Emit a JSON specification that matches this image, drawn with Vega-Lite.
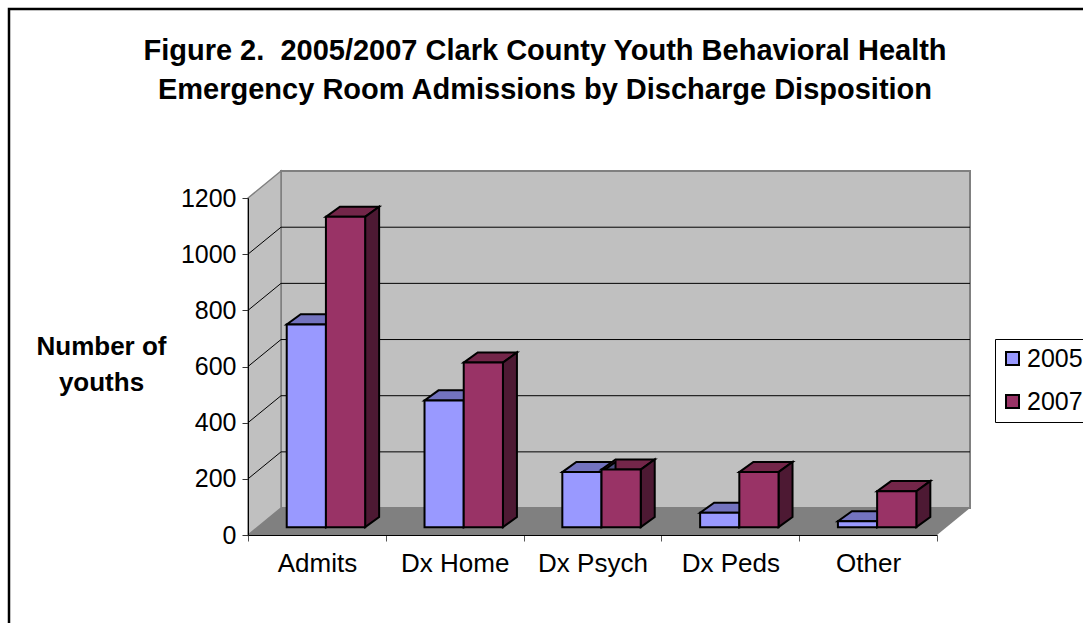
{
"$schema":"https://vega.github.io/schema/vega-lite/v6.json",
"width":1090,"height":630,
"autosize":{"type":"none"},
"padding":{"left":9,"top":9,"right":0,"bottom":0},
"background":"white",
"view":{"stroke":"black","strokeWidth":2.5,"fill":"white"},
"title":{"text":["Figure 2.\u00a0 2005/2007 Clark County Youth Behavioral Health","Emergency Room Admissions by Discharge Disposition"],"font":"Liberation Sans","fontSize":29,"fontWeight":"bold","color":"black","anchor":"middle","dx":-9,"baseline":"top","offset":-96,"lineHeight":39},
"datasets":{
"bars":[
{"category":"Admits","year":"2005","value":722},{"category":"Admits","year":"2007","value":1105},
{"category":"Dx Home","year":"2005","value":451},{"category":"Dx Home","year":"2007","value":586},
{"category":"Dx Psych","year":"2005","value":196},{"category":"Dx Psych","year":"2007","value":205},
{"category":"Dx Peds","year":"2005","value":51},{"category":"Dx Peds","year":"2007","value":196},
{"category":"Other","year":"2005","value":21},{"category":"Other","year":"2007","value":128}],
"grid":[{"value":200},{"value":400},{"value":600},{"value":800},{"value":1000}],
"leftWall":[{"x":0,"lo":0,"hi":1200},{"x":0.2395,"lo":96,"hi":1296}],
"floor":[{"x":0,"lo":0,"hi":0},{"x":0.2395,"lo":0,"hi":96},{"x":5,"lo":0,"hi":96},{"x":5.2395,"lo":96,"hi":96}]
},
"data":{"name":"bars"},
"transform":[
{"calculate":"indexof(['Admits','Dx Home','Dx Psych','Dx Peds','Other'],datum.category)+0.281+(datum.year=='2007'?0.2845:0)","as":"xl"},
{"calculate":"datum.xl+0.2845","as":"xr"},
{"calculate":"datum.value+28","as":"top"},
{"calculate":"datum.category+datum.year","as":"id"}
],
"layer":[
{"data":{"values":[{}]},"mark":{"type":"rect","fill":"#C0C0C0","stroke":"#808080","strokeWidth":2},
 "encoding":{"x":{"datum":0.2395,"type":"quantitative","scale":{"domain":[0,5],"range":[239,928],"nice":false,"zero":false},
   "axis":{"values":[0,0.5,1,1.5,2,2.5,3,3.5,4,4.5,5],"labelExpr":"['','Admits','','Dx Home','','Dx Psych','','Dx Peds','','Other',''][round(datum.value*2)]","title":null,"grid":false,"orient":"bottom","offset":-104,"zindex":1,"domainColor":"black","domainWidth":1,"tickColor":"#555555","tickSize":6,"tickOpacity":{"condition":{"test":"datum.value%1==0","value":1},"value":0},"labelFont":"Liberation Sans","labelFontSize":26,"labelColor":"black","labelPadding":9,"labelOverlap":false,"labelBound":false,"labelFlush":false}},
  "x2":{"datum":5.2395},
  "y":{"datum":96,"type":"quantitative","scale":{"domain":[0,1200],"range":[526,189],"nice":false,"zero":false},
   "axis":{"values":[0,200,400,600,800,1000,1200],"format":"d","title":["Number of","youths"],"titleAngle":0,"titleX":-147,"titleY":345,"titleAlign":"center","titleBaseline":"alphabetic","titleFont":"Liberation Sans","titleFontSize":26,"titleFontWeight":"bold","titleColor":"black","titleLineHeight":36,"grid":false,"orient":"left","offset":-239,"zindex":1,"domainColor":"black","domainWidth":1,"tickColor":"#333333","tickSize":6,"labelFont":"Liberation Sans","labelFontSize":25,"labelColor":"black","labelPadding":6,"labelOverlap":false,"labelBound":false}},
  "y2":{"datum":1296}}},
{"data":{"name":"leftWall"},"mark":{"type":"area","fill":"#C0C0C0","stroke":"#808080","strokeWidth":1.5},
 "encoding":{"x":{"field":"x","type":"quantitative"},"y":{"field":"lo","type":"quantitative"},"y2":{"field":"hi"}}},
{"data":{"name":"floor"},"mark":{"type":"area","fill":"#808080"},
 "encoding":{"x":{"field":"x","type":"quantitative"},"y":{"field":"lo","type":"quantitative"},"y2":{"field":"hi"}}},
{"data":{"name":"grid"},"transform":[{"calculate":"[0,1,2]","as":"t"},{"flatten":["t"]},{"calculate":"[0,0.2395,5.2395][datum.t]","as":"gx"},{"calculate":"datum.value+(datum.t>0?96:0)","as":"gy"}],
 "mark":{"type":"line","color":"black","strokeWidth":1},
 "encoding":{"x":{"field":"gx","type":"quantitative"},"y":{"field":"gy","type":"quantitative"},"detail":{"field":"value"}}},
{"transform":[{"calculate":"[0,1,2,3]","as":"t"},{"flatten":["t"]},{"calculate":"[datum.xl,datum.xl+0.1016,datum.xr,datum.xr+0.1016][datum.t]","as":"fx"},{"calculate":"datum.top+[0,0,0,36][datum.t]","as":"lo"},{"calculate":"datum.top+[0,36,36,36][datum.t]","as":"hi"}],
 "mark":{"type":"area","stroke":"black","strokeWidth":2,"strokeJoin":"miter"},
 "encoding":{"x":{"field":"fx","type":"quantitative"},"y":{"field":"lo","type":"quantitative"},"y2":{"field":"hi"},"detail":{"field":"id"},"fill":{"field":"year","type":"nominal","scale":{"domain":["2005","2007"],"range":["#7373BF","#732649"]},"legend":null}}},
{"transform":[{"calculate":"[0,1]","as":"t"},{"flatten":["t"]},{"calculate":"datum.xr+datum.t*0.1016","as":"fx"},{"calculate":"28+datum.t*36","as":"lo"},{"calculate":"datum.top+datum.t*36","as":"hi"}],
 "mark":{"type":"area","stroke":"black","strokeWidth":2,"strokeJoin":"miter"},
 "encoding":{"x":{"field":"fx","type":"quantitative"},"y":{"field":"lo","type":"quantitative"},"y2":{"field":"hi"},"detail":{"field":"id"},"fill":{"field":"year","type":"nominal","scale":{"domain":["2005","2007"],"range":["#4D4D80","#4D1933"]},"legend":null}}},
{"mark":{"type":"rect","stroke":"black","strokeWidth":2},
 "encoding":{"x":{"field":"xl","type":"quantitative"},"x2":{"field":"xr"},"y":{"field":"top","type":"quantitative"},"y2":{"datum":28},
  "fill":{"field":"year","type":"nominal","scale":{"domain":["2005","2007"],"range":["#9999FF","#993366"]},
   "legend":{"orient":"none","legendX":986,"legendY":330,"title":null,"symbolType":"square","symbolSize":169,"symbolStrokeColor":"black","symbolStrokeWidth":2,"symbolOffset":-2,"labelFont":"Liberation Sans","labelFontSize":25,"labelColor":"black","labelOffset":2,"rowPadding":17,"strokeColor":"black","fillColor":"white","padding":7}}}}
],
"resolve":{"scale":{"fill":"independent"}}
}
